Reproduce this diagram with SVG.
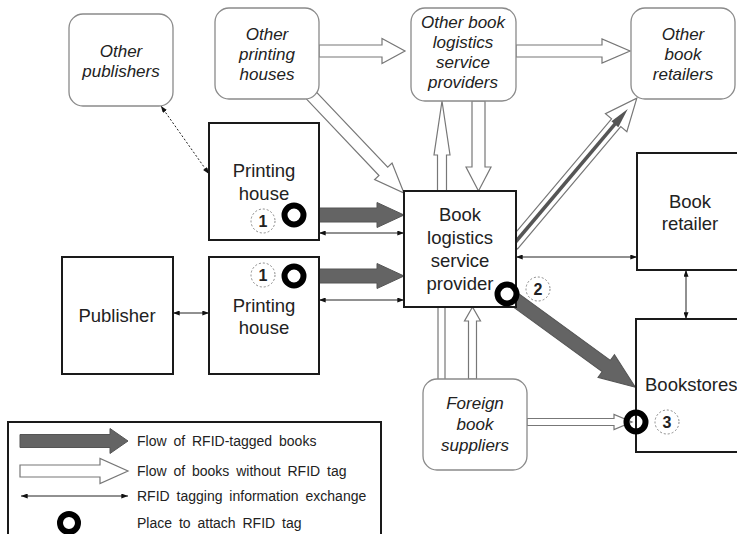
<svg xmlns="http://www.w3.org/2000/svg" width="737" height="534" viewBox="0 0 737 534">
<defs>
<style>
.box{fill:#fff;stroke:#1a1a1a;stroke-width:2}
.rbox{fill:#fff;stroke:#8a8a8a;stroke-width:1.3}
.t{font-family:"Liberation Sans",Arial,sans-serif;font-size:18.5px;fill:#222;text-anchor:middle}
.ti{font-family:"Liberation Sans",Arial,sans-serif;font-size:17px;font-style:italic;fill:#222;text-anchor:middle}
.lg{font-family:"Liberation Sans",Arial,sans-serif;font-size:14px;fill:#222;word-spacing:3px}
.num{font-family:"Liberation Sans",Arial,sans-serif;font-size:16px;font-weight:bold;fill:#222;text-anchor:middle}
.dc{fill:#fff;stroke:#888;stroke-width:1;stroke-dasharray:2 2}
.gray{fill:#646464;stroke:#555;stroke-width:1}
.white{fill:#fff;stroke:#777;stroke-width:1.2}
.dbl{stroke:#222;stroke-width:1;fill:none;marker-start:url(#ah);marker-end:url(#ah)}
.ring{fill:none;stroke:#000;stroke-width:6}
</style>
<marker id="ah" viewBox="0 0 8 6" refX="8" refY="3" markerWidth="7" markerHeight="5" markerUnits="userSpaceOnUse" orient="auto-start-reverse">
<path d="M0,0 L8,3 L0,6 Z" fill="#111"/>
</marker>
</defs>
<rect width="737" height="534" fill="#fff"/>

<g id="connectors">
<!-- white flows -->
<polygon class="white" transform="translate(319,51)" points="0,-6 63,-6 63,-12.5 86,0 63,12.5 63,6 0,6"/>
<polygon class="white" transform="translate(516,51)" points="0,-6 86,-6 86,-12 114,0 86,12 86,6 0,6"/>
<polygon class="white" transform="translate(309,93) rotate(46.5)" points="0,-6 108,-6 108,-12 138,0 108,12 108,6 0,6"/>
<polygon class="white" points="437.5,191 437.5,155 434,155 442,101 450,155 446.5,155 446.5,191"/>
<polygon class="white" points="472,101 485,101 485,167 491,167 478.5,191 466,167 472,167"/>
<g transform="translate(513,245) rotate(-49.85)">
<polygon class="white" points="0,-6 160,-6 160,-14 192,0 160,14 160,6 0,6"/>
<line x1="0" y1="0" x2="162" y2="0" stroke="#555" stroke-width="3.5"/>
<polygon points="158,-4.5 178,0 158,4.5" fill="#555"/>
</g>
<path d="M438,307 V379 M445,307 V379" stroke="#777" stroke-width="1.2" fill="none"/>
<polygon class="white" points="468.5,379 468.5,321 464.5,321 472.5,307 480.5,321 476.5,321 476.5,379"/>
<polygon class="white" transform="translate(527,422)" points="0,-3.5 87,-3.5 87,-7.5 105,0 87,7.5 87,3.5 0,3.5"/>
<!-- RFID-tagged flows -->
<polygon class="gray" transform="translate(300,215)" points="0,-7 77,-7 77,-12.5 104,0 77,12.5 77,7 0,7"/>
<polygon class="gray" transform="translate(300,276)" points="0,-7 77,-7 77,-12.5 104,0 77,12.5 77,7 0,7"/>
<polygon class="gray" transform="translate(506,293) rotate(36.08)" points="0,-7 124,-7 124,-14 160,0 124,14 124,7 0,7"/>
<!-- information exchange -->
<line class="dbl" x1="173" y1="313" x2="209" y2="313"/>
<line class="dbl" x1="319" y1="233" x2="404" y2="233"/>
<line class="dbl" x1="319" y1="300" x2="404" y2="300"/>
<line class="dbl" x1="516" y1="257" x2="637" y2="257"/>
<line class="dbl" x1="686" y1="270" x2="686" y2="319"/>
<line class="dbl" x1="161" y1="106" x2="209" y2="174" stroke-dasharray="2 2"/>
</g>

<g id="other-publishers">
<rect class="rbox" x="69" y="14" width="104" height="92" rx="14"/>
<text class="ti" x="121" y="57">Other</text>
<text class="ti" x="121" y="77">publishers</text>
</g>
<g id="other-printing-houses">
<rect class="rbox" x="215" y="8" width="104" height="91" rx="14"/>
<text class="ti" x="267" y="40">Other</text>
<text class="ti" x="267" y="60">printing</text>
<text class="ti" x="267" y="80">houses</text>
</g>
<g id="other-lsp">
<rect class="rbox" x="411" y="8" width="105" height="93" rx="14"/>
<text class="ti" x="463" y="28">Other book</text>
<text class="ti" x="463" y="48">logistics</text>
<text class="ti" x="463" y="68">service</text>
<text class="ti" x="463" y="88">providers</text>
</g>
<g id="other-retailers">
<rect class="rbox" x="631" y="8" width="104" height="91" rx="14"/>
<text class="ti" x="683" y="40">Other</text>
<text class="ti" x="683" y="60">book</text>
<text class="ti" x="683" y="80">retailers</text>
</g>
<g id="printing-house-1">
<rect class="box" x="209" y="123" width="110" height="117"/>
<text class="t" x="264" y="177">Printing</text>
<text class="t" x="264" y="200">house</text>
<circle class="dc" cx="263" cy="221" r="12"/>
<text class="num" x="263" y="227">1</text>
</g>
<g id="printing-house-2">
<rect class="box" x="209" y="257" width="110" height="117"/>
<text class="t" x="264" y="312">Printing</text>
<text class="t" x="264" y="334">house</text>
<circle class="dc" cx="263" cy="275" r="12"/>
<text class="num" x="263" y="281">1</text>
</g>
<g id="publisher">
<rect class="box" x="62" y="257" width="111" height="117"/>
<text class="t" x="117" y="322">Publisher</text>
</g>
<g id="lsp">
<rect class="box" x="404" y="191" width="112" height="116"/>
<text class="t" x="460" y="221">Book</text>
<text class="t" x="460" y="244">logistics</text>
<text class="t" x="460" y="267">service</text>
<text class="t" x="460" y="290">provider</text>
<circle class="dc" cx="538" cy="289" r="12"/>
<text class="num" x="538" y="295">2</text>
</g>
<g id="book-retailer">
<rect class="box" x="637" y="153" width="115" height="117"/>
<text class="t" x="690" y="208">Book</text>
<text class="t" x="690" y="230">retailer</text>
</g>
<g id="bookstores">
<rect class="box" x="636" y="319" width="115" height="133"/>
<text class="t" x="645" y="391" style="text-anchor:start">Bookstores</text>
<circle class="dc" cx="667" cy="422" r="12"/>
<text class="num" x="667" y="428">3</text>
</g>
<g id="foreign-suppliers">
<rect class="rbox" x="423" y="379" width="104" height="91" rx="14"/>
<text class="ti" x="475" y="409">Foreign</text>
<text class="ti" x="475" y="430">book</text>
<text class="ti" x="475" y="451">suppliers</text>
</g>

<g id="tags">
<circle class="ring" cx="294" cy="215" r="9.5"/>
<circle class="ring" cx="294" cy="276" r="9.5"/>
<circle class="ring" cx="507" cy="294" r="9.5"/>
<circle class="ring" cx="636" cy="422" r="9.5"/>
</g>

<g id="legend">
<rect x="8" y="422" width="373" height="125" fill="#fff" stroke="#1a1a1a" stroke-width="2"/>
<polygon class="gray" transform="translate(20,441)" points="0,-6.5 90,-6.5 90,-12.5 108,0 90,12.5 90,6.5 0,6.5"/>
<text class="lg" x="137" y="446">Flow of RFID-tagged books</text>
<polygon class="white" transform="translate(20,471)" points="0,-6 80,-6 80,-12.5 108,0 80,12.5 80,6 0,6"/>
<text class="lg" x="137" y="476">Flow of books without RFID tag</text>
<line class="dbl" x1="21" y1="496" x2="128" y2="496"/>
<text class="lg" x="137" y="501">RFID tagging information exchange</text>
<circle class="ring" cx="69" cy="523" r="9"/>
<text class="lg" x="137" y="528">Place to attach RFID tag</text>
</g>
</svg>
